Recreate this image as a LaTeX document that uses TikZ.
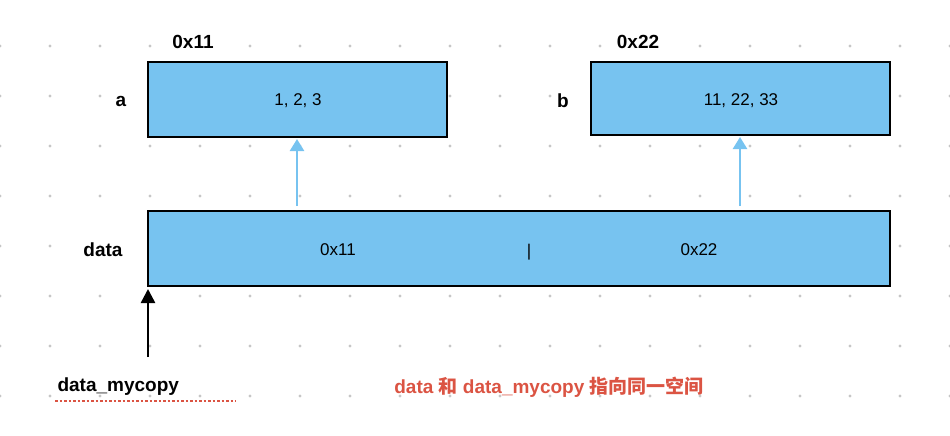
\documentclass[tikz,border=0pt]{standalone}
\usepackage{fontspec}
\setmainfont{Liberation Sans}
\newfontfamily\cjk{Noto Sans CJK SC}
\usetikzlibrary{arrows.meta}
\definecolor{boxblue}{HTML}{77C3F0}
\definecolor{warnred}{HTML}{DB5443}
\begin{document}
\begin{tikzpicture}[x=1pt,y=-1pt,
  box/.style={draw=black,line width=1.6pt,fill=boxblue},
  lab/.style={font=\fontsize{19}{22}\selectfont\bfseries},
  txt/.style={font=\fontsize{17}{20}\selectfont},
  bluearrow/.style={draw=boxblue,line width=2.5pt,-{Triangle[length=12pt,width=14pt]}},
  blackarrow/.style={draw=black,line width=2.5pt,-{Triangle[length=14pt,width=14pt]}}]
\useasboundingbox (0,0) rectangle (950,436);
\foreach \x in {0,50,...,950}{\foreach \y in {46,96,...,396}{\fill[gray!45] (\x,\y) circle (1.6);}}
\draw[box] (148,62) rectangle (447,137);
\draw[box] (591,62) rectangle (890,135);
\draw[box] (148,211) rectangle (890,286);
\node[lab] (la) at (193,42) {0x11};
\node[lab] (lb) at (638,42) {0x22};
\node[lab] (a) at (121,101) {a};
\node[lab] (b) at (563,101) {b};
\node[lab] (d) at (103,250) {data};
\node[txt] (va) at (298,101) {1, 2, 3};
\node[txt] (vb) at (741,101) {11, 22, 33};
\node[txt] (d1) at (338,250) {0x11};
\node[txt] (sep) at (529,252) {|};
\node[txt] (d2) at (699,250) {0x22};
\coordinate (p1) at (297,206); \coordinate (q1) at (297,139);
\coordinate (p2) at (740,206); \coordinate (q2) at (740,137);
\draw[bluearrow] (p1) -- (q1);
\draw[bluearrow] (p2) -- (q2);
\node[lab,anchor=west] (mc) at (54,387) {data\_mycopy};
\coordinate (s) at (148,357); \coordinate (t) at (148,289);
\draw[blackarrow] (s) -- (t);
\draw[warnred,line width=1.3pt,dash pattern=on 2.5pt off 2pt] (55,401) -- (236,401);
\node[lab,text=warnred] (note) at (549,387) {data {\cjk 和} data\_mycopy {\cjk 指向同一空间}};
\end{tikzpicture}
\end{document}
